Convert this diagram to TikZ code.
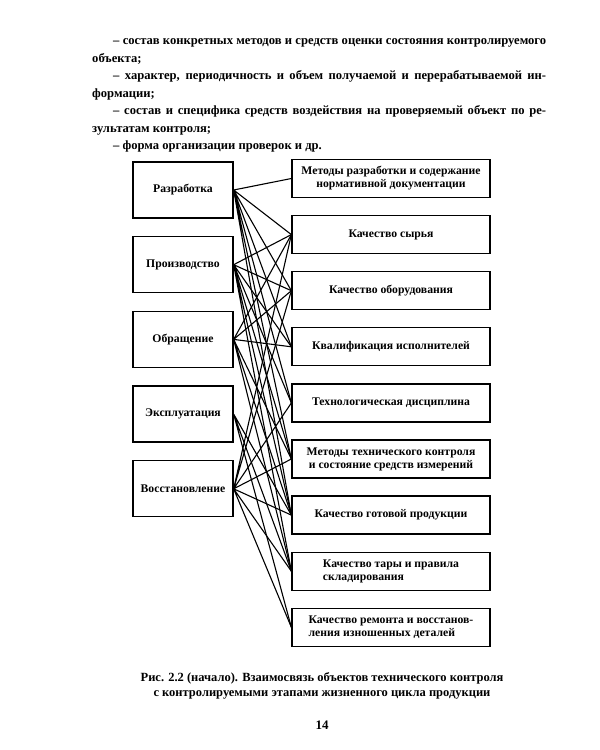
\documentclass[tikz,border=0pt]{standalone}
\usepackage{fontspec}
\setmainfont{Liberation Serif}
\usetikzlibrary{positioning}

\tikzset{
    zeile/.style={anchor=base west, inner sep=0pt,
        font=\fontsize{12.6}{15}\selectfont\bfseries},
    etap/.style={draw, line width=1.3pt, minimum width=100pt, minimum height=56pt,
        font=\fontsize{11.7}{13}\selectfont\bfseries},
    obekt/.style={draw, line width=1.3pt, minimum width=198pt, minimum height=38pt,
        align=center, font=\fontsize{11.7}{13}\selectfont\bfseries},
    svyaz/.style={line width=1.1pt}
}

\begin{document}
\begin{tikzpicture}[x=1pt, y=-1pt]

\useasboundingbox (0,0) rectangle (600,750);

% Text oben
\node[zeile] (t1) at (113,44)
  {\makebox[433pt][s]{– состав конкретных методов и средств оценки состояния контролируемого}};
\node[zeile] (t2) at (92,62) {объекта;};
\node[zeile] (t3) at (113,79)
  {\makebox[433pt][s]{– характер, периодичность и объем получаемой и перерабатываемой ин-}};
\node[zeile] (t4) at (92,97) {формации;};
\node[zeile] (t5) at (113,114)
  {\makebox[433pt][s]{– состав и специфика средств воздействия на проверяемый объект по ре-}};
\node[zeile] (t6) at (92,132) {зультатам контроля;};
\node[zeile] (t7) at (113,149) {– форма организации проверок и др.};

% Punkte
\coordinate (L) at (183,190);
\coordinate (R) at (391,178.5);

% Etappen
\node[etap] (razrabotka) at (L) {Разработка};
\node[etap, below=17.4pt of razrabotka] (proizvodstvo) {Производство};
\node[etap, below=17.4pt of proizvodstvo] (obrashchenie) {Обращение};
\node[etap, below=17.4pt of obrashchenie] (ekspluatatsiya) {Эксплуатация};
\node[etap, below=17.4pt of ekspluatatsiya] (vosstanovlenie) {Восстановление};

% Objekte
\node[obekt] (metody) at (R) {Методы разработки и содержание\\нормативной документации};
\node[obekt, below=16.8pt of metody] (syrye) {Качество сырья};
\node[obekt, below=16.8pt of syrye] (oborudovanie) {Качество оборудования};
\node[obekt, below=16.8pt of oborudovanie] (kvalifikatsiya) {Квалификация исполнителей};
\node[obekt, below=16.8pt of kvalifikatsiya] (distsiplina) {Технологическая дисциплина};
\node[obekt, below=16.8pt of distsiplina] (kontrol) {Методы технического контроля\\и состояние средств измерений};
\node[obekt, below=16.8pt of kontrol] (produktsiya) {Качество готовой продукции};
\node[obekt, below=16.8pt of produktsiya, align=left] (tara) {Качество тары и правила\\складирования};
\node[obekt, below=16.8pt of tara, align=left] (remont) {Качество ремонта и восстанов-\\ления изношенных деталей};

% Verbindungen
\draw[svyaz] (razrabotka.east) -- (metody.west)
             (razrabotka.east) -- (syrye.west)
             (razrabotka.east) -- (oborudovanie.west)
             (razrabotka.east) -- (kvalifikatsiya.west)
             (razrabotka.east) -- (distsiplina.west)
             (razrabotka.east) -- (kontrol.west)
             (razrabotka.east) -- (produktsiya.west);
\draw[svyaz] (proizvodstvo.east) -- (syrye.west)
             (proizvodstvo.east) -- (oborudovanie.west)
             (proizvodstvo.east) -- (kvalifikatsiya.west)
             (proizvodstvo.east) -- (distsiplina.west)
             (proizvodstvo.east) -- (kontrol.west)
             (proizvodstvo.east) -- (produktsiya.west)
             (proizvodstvo.east) -- (tara.west);
\draw[svyaz] (obrashchenie.east) -- (syrye.west)
             (obrashchenie.east) -- (oborudovanie.west)
             (obrashchenie.east) -- (kvalifikatsiya.west)
             (obrashchenie.east) -- (kontrol.west)
             (obrashchenie.east) -- (produktsiya.west)
             (obrashchenie.east) -- (tara.west);
\draw[svyaz] (ekspluatatsiya.east) -- (produktsiya.west)
             (ekspluatatsiya.east) -- (tara.west)
             (ekspluatatsiya.east) -- (remont.west);
\draw[svyaz] (vosstanovlenie.east) -- (syrye.west)
             (vosstanovlenie.east) -- (oborudovanie.west)
             (vosstanovlenie.east) -- (distsiplina.west)
             (vosstanovlenie.east) -- (kontrol.west)
             (vosstanovlenie.east) -- (produktsiya.west)
             (vosstanovlenie.east) -- (tara.west)
             (vosstanovlenie.east) -- (remont.west);

% Unterschrift
\node[align=center, font=\fontsize{12.5}{14.5}\selectfont\bfseries] (podpis) at (322,686)
{Рис. 2.2 (начало). Взаимосвязь объектов технического контроля\\
с контролируемыми этапами жизненного цикла продукции};

\node[font=\fontsize{13}{15}\selectfont\bfseries] (nomer) at (322,725) {14};
\end{tikzpicture}
\end{document}
